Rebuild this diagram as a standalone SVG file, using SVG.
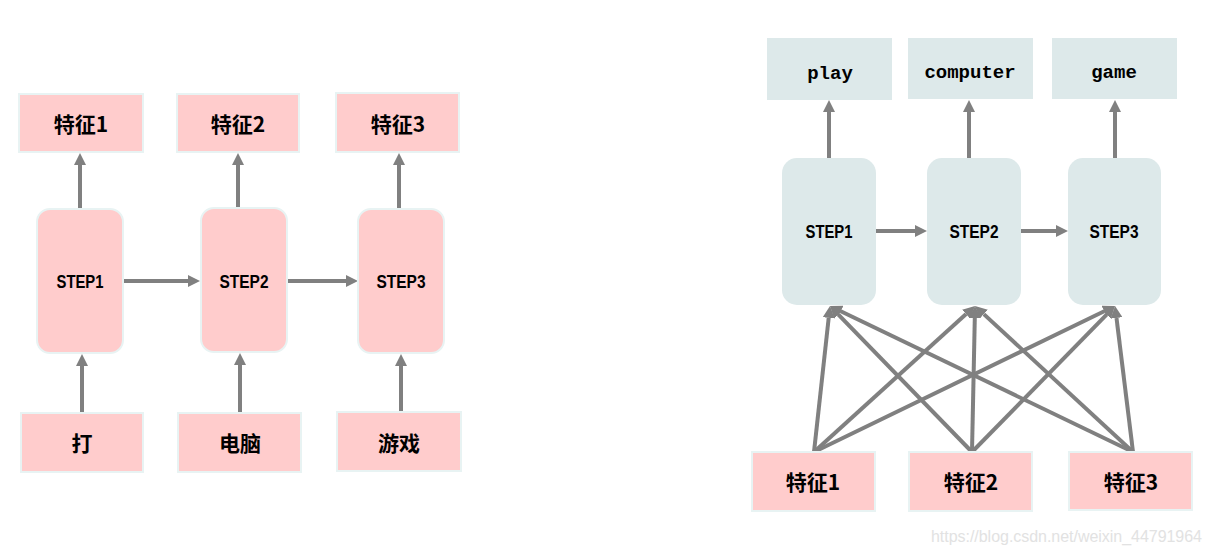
<svg xmlns="http://www.w3.org/2000/svg" width="1211" height="554" viewBox="0 0 1211 554">
<style>
.pink{fill:#ffcccc;stroke:#e8f3f3;stroke-width:2}
.blue{fill:#dde9ea}
.cn{font-family:"Noto Sans CJK SC","Liberation Sans",sans-serif;font-weight:bold;font-size:21px;fill:#000;text-anchor:middle}
.st{font-family:"Liberation Sans",Arial,sans-serif;font-weight:bold;font-size:19px;fill:#000;text-anchor:middle}
.en{font-family:"Liberation Mono","Courier New",monospace;font-weight:bold;font-size:19px;fill:#000;text-anchor:middle}
.wm{font-family:"Liberation Sans",Arial,sans-serif;font-size:16px;fill:#e2e2e2}
.ln{stroke:#808080;stroke-width:4;fill:none;marker-end:url(#ah)}
</style>
<defs>
<marker id="ah" markerUnits="userSpaceOnUse" markerWidth="12" markerHeight="12" refX="0" refY="6" orient="auto" viewBox="0 0 12 12">
<path d="M0,0 L12,6 L0,12 z" fill="#808080"/>
</marker>
</defs>
<rect width="1211" height="554" fill="#fff"/>

<g id="connectors">
<line class="ln" x1="80" y1="208" x2="80" y2="165"/>
<line class="ln" x1="238" y1="208" x2="238" y2="165"/>
<line class="ln" x1="399" y1="208" x2="399" y2="165"/>
<line class="ln" x1="82" y1="412" x2="82" y2="366"/>
<line class="ln" x1="240" y1="412" x2="240" y2="365"/>
<line class="ln" x1="401" y1="412" x2="401" y2="366"/>
<line class="ln" x1="123" y1="281" x2="188" y2="281"/>
<line class="ln" x1="287" y1="281" x2="346" y2="281"/>
<line class="ln" x1="829" y1="158" x2="829" y2="112"/>
<line class="ln" x1="969" y1="158" x2="969" y2="112"/>
<line class="ln" x1="1115" y1="158" x2="1115" y2="112"/>
<line class="ln" x1="876" y1="231" x2="915" y2="231"/>
<line class="ln" x1="1021" y1="231" x2="1056" y2="231"/>
<line class="ln" x1="814" y1="452" x2="828.7" y2="317.9"/>
<line class="ln" x1="814" y1="452" x2="966.1" y2="314.1"/>
<line class="ln" x1="814" y1="452" x2="1104.2" y2="311.2"/>
<line class="ln" x1="972" y1="452" x2="838.4" y2="314.6"/>
<line class="ln" x1="972" y1="452" x2="974.8" y2="318"/>
<line class="ln" x1="972" y1="452" x2="1106.6" y2="314.6"/>
<line class="ln" x1="1133" y1="452" x2="840.8" y2="311.2"/>
<line class="ln" x1="1133" y1="452" x2="983.8" y2="314.1"/>
<line class="ln" x1="1133" y1="452" x2="1116.5" y2="317.9"/>
</g>

<g id="L-feat1"><rect class="pink" x="19" y="94" width="124" height="58"/><text class="cn" x="81" y="132">特征1</text></g>
<g id="L-feat2"><rect class="pink" x="177" y="94" width="122" height="58"/><text class="cn" x="238" y="132">特征2</text></g>
<g id="L-feat3"><rect class="pink" x="336" y="93" width="123" height="59"/><text class="cn" x="398" y="132">特征3</text></g>

<g id="L-step1"><rect class="pink" x="37" y="209" width="86" height="144" rx="13"/><text class="st" x="80" y="288" textLength="47" lengthAdjust="spacingAndGlyphs">STEP1</text></g>
<g id="L-step2"><rect class="pink" x="201" y="208" width="86" height="144" rx="13"/><text class="st" x="244" y="288" textLength="49" lengthAdjust="spacingAndGlyphs">STEP2</text></g>
<g id="L-step3"><rect class="pink" x="358" y="209" width="86" height="144" rx="13"/><text class="st" x="401" y="288" textLength="49" lengthAdjust="spacingAndGlyphs">STEP3</text></g>

<g id="L-da"><rect class="pink" x="21" y="413" width="122" height="59"/><text class="cn" x="82" y="451">打</text></g>
<g id="L-diannao"><rect class="pink" x="178" y="413" width="123" height="59"/><text class="cn" x="240" y="451">电脑</text></g>
<g id="L-youxi"><rect class="pink" x="337" y="412" width="124" height="59"/><text class="cn" x="399" y="451">游戏</text></g>

<g id="R-play"><rect class="blue" x="767" y="38" width="125" height="62"/><text class="en" x="830" y="79">play</text></g>
<g id="R-computer"><rect class="blue" x="908" y="38" width="125" height="61"/><text class="en" x="970" y="78">computer</text></g>
<g id="R-game"><rect class="blue" x="1052" y="38" width="125" height="61"/><text class="en" x="1114" y="78">game</text></g>

<g id="R-step1"><rect class="blue" x="782" y="158" width="94" height="147" rx="15"/><text class="st" x="829" y="238" textLength="47" lengthAdjust="spacingAndGlyphs">STEP1</text></g>
<g id="R-step2"><rect class="blue" x="927" y="158" width="94" height="147" rx="15"/><text class="st" x="974" y="238" textLength="49" lengthAdjust="spacingAndGlyphs">STEP2</text></g>
<g id="R-step3"><rect class="blue" x="1068" y="158" width="93" height="147" rx="15"/><text class="st" x="1114" y="238" textLength="49" lengthAdjust="spacingAndGlyphs">STEP3</text></g>

<g id="R-feat1"><rect class="pink" x="752" y="452" width="123" height="59"/><text class="cn" x="813" y="490">特征1</text></g>
<g id="R-feat2"><rect class="pink" x="909" y="452" width="123" height="59"/><text class="cn" x="971" y="490">特征2</text></g>
<g id="R-feat3"><rect class="pink" x="1069" y="452" width="123" height="58"/><text class="cn" x="1131" y="490">特征3</text></g>

<text class="wm" x="931" y="542" textLength="271">https://blog.csdn.net/weixin_44791964</text>
</svg>
